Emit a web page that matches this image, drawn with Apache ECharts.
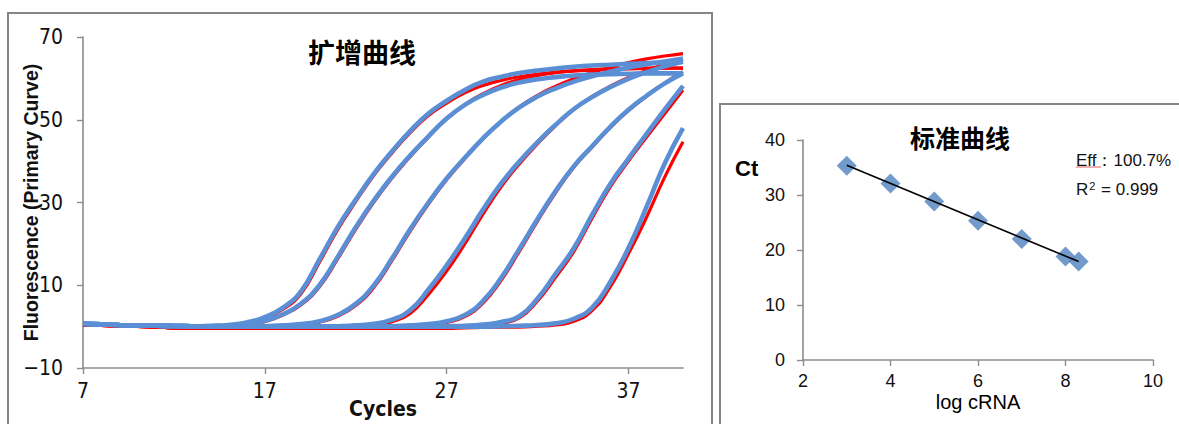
<!DOCTYPE html>
<html>
<head>
<meta charset="utf-8">
<script src="https://cdn.jsdelivr.net/npm/echarts@6/dist/echarts.min.js"></script>
<style>
html,body{margin:0;padding:0;background:#fff;}
#c{width:1179px;height:424px;}
</style>
</head>
<body>
<div id="c"></div>
<script>
// ---- Amplification curves (扩增曲线) ----
const cycles = [7,8,9,10,11,12,13,14,15,16,17,18,19,20,21,22,23,24,25,26,27,28,29,30,31,32,33,34,35,36,37,38,39,40];
const amplifTicks = [7,17,27,37];
const fluorTicks = [-10,10,30,50,70];

const blue1 = [0.7,0.55,0.4,0.3,0.2,0.15,0.1,0.2,0.4,1.0,2.3,4.6,8.6,16.2,24,30.7,37,42.4,47.3,51.5,54.6,57.2,59.2,60.4,61.3,61.9,62.4,62.8,63.1,63.3,63.5,63.7,63.8,64.0];
const red1  = [0.4,0.3,0.2,0.05,-0.1,-0.3,-0.4,-0.3,0.1,0.8,2.0,4.2,8.0,15.5,23.4,30.2,36.6,42.0,46.9,51.0,54.0,56.5,58.3,59.5,60.4,61.0,61.5,61.8,62.0,62.2,62.3,62.4,62.5,62.5];
const blue2 = [0.7,0.55,0.4,0.3,0.2,0.15,0.1,0.1,0.2,0.5,1.4,3.0,5.6,10,16.8,24,30.5,36.3,41.4,46,50.3,53.6,56.0,57.8,59.0,59.8,60.3,60.7,60.9,61.0,61.1,61.2,61.2,61.2];
const red2  = [0.4,0.3,0.2,0.05,-0.1,-0.3,-0.4,-0.3,0,0.4,1.2,2.8,5.3,9.6,16.3,23.5,30.1,35.9,41.1,45.8,50.2,53.7,56.3,58.3,59.7,60.7,61.4,61.8,62.1,62.3,62.4,62.5,62.5,62.5];
const blue3 = [0.7,0.55,0.4,0.3,0.2,0.15,0.1,0.05,0,0,0.1,0.3,0.6,1.3,2.8,5.5,10,16.5,23.6,30,35.8,40.8,45.5,49.6,53.0,55.6,57.6,59.2,60.5,61.6,62.6,63.4,64.1,64.8];
const red3  = [0.4,0.3,0.2,0.05,-0.1,-0.3,-0.4,-0.4,-0.4,-0.3,-0.2,0.1,0.4,1.1,2.5,5.1,9.5,16.0,23.1,29.6,35.5,40.6,45.4,49.6,53.1,55.9,58.1,59.9,61.4,62.7,63.8,64.7,65.4,66.0];
const blue4 = [0.7,0.55,0.4,0.3,0.2,0.15,0.1,0.05,0,0,0,0,0,0,0.1,0.3,0.7,1.7,4.0,9.0,14.8,21.3,28.3,34.6,39.9,44.6,48.8,52.6,55.5,57.9,59.9,61.5,62.9,64.0];
const red4  = [0.4,0.3,0.2,0.05,-0.1,-0.3,-0.4,-0.4,-0.4,-0.4,-0.4,-0.4,-0.4,-0.3,-0.2,0.0,0.4,1.2,3.2,7.8,13.4,20.0,27.2,33.8,39.3,44.2,48.6,52.5,55.6,58.1,60.2,61.9,63.4,64.6];
const blue5 = [0.7,0.55,0.4,0.3,0.2,0.15,0.1,0.05,0,0,0,0,0,0,0,0,0,0.1,0.3,0.6,1.3,2.8,6.2,11.8,18.8,26,32.8,38.8,43.6,48.3,52.4,55.8,58.8,61.2];
const red5  = [0.4,0.3,0.2,0.05,-0.1,-0.3,-0.4,-0.4,-0.4,-0.4,-0.4,-0.4,-0.4,-0.4,-0.4,-0.4,-0.3,-0.2,0.0,0.3,1.0,2.4,5.7,11.2,18.2,25.5,32.4,38.5,43.4,48.1,52.2,55.7,58.9,61.6];
const blue6 = [0.7,0.55,0.4,0.3,0.2,0.15,0.1,0.05,0,0,0,0,0,0,0,0,0,0,0,0,0.1,0.2,0.5,1.1,2.5,6.8,12.8,19,27,34.5,40.6,46.6,52.5,58.2];
const red6  = [0.4,0.3,0.2,0.05,-0.1,-0.3,-0.4,-0.4,-0.4,-0.4,-0.4,-0.4,-0.4,-0.4,-0.4,-0.4,-0.4,-0.4,-0.4,-0.3,-0.2,0.0,0.2,0.8,2.1,6.2,12.0,18.2,26.2,33.8,40.0,45.8,51.5,57.2];
const blue7 = [0.7,0.55,0.4,0.3,0.2,0.15,0.1,0.05,0,0,0,0,0,0,0,0,0,0,0,0,0,0,0,0.1,0.2,0.4,0.8,1.9,4.6,10.8,19,29,39.5,48];
const red7  = [0.4,0.3,0.2,0.05,-0.1,-0.3,-0.4,-0.4,-0.4,-0.4,-0.4,-0.4,-0.4,-0.4,-0.4,-0.4,-0.4,-0.4,-0.4,-0.4,-0.4,-0.3,-0.2,-0.1,-0.1,0.1,0.4,1.3,3.9,9.6,17.6,26.5,36.2,44.7];

// ---- Standard curve (标准曲线) ----
const logCRNA = [3,4,5,6,7,8,8.3];
const ctValues = [35.3,32.1,28.8,25.3,22.0,18.8,17.9];
const fitX = [3, 8.3];
const fitY = [35.4, 17.9];
const stdXTicks = [2,4,6,8,10];
const stdYTicks = [0,10,20,30,40];

const redCurves = [red1, red2, red3, red4, red5, red6, red7];
const blueCurves = [blue1, blue2, blue3, blue4, blue5, blue6, blue7];

const zip = (xs, ys) => xs.map((x, i) => [x, ys[i]]);

const narrow = "'Liberation Sans Narrow', 'DejaVu Sans Condensed', 'Arial Narrow', 'Liberation Sans', Arial, sans-serif";
const sans = "'Liberation Sans', Arial, sans-serif";
const cjk = "'Noto Sans CJK SC', sans-serif";
const axisGrey = '#8c8c8c';

const series = [];
redCurves.forEach((d, i) => series.push({
  name: 'red' + (i + 1), type: 'line', xAxisIndex: 0, yAxisIndex: 0,
  data: zip(cycles, d), showSymbol: false, smooth: 0.5,
  lineStyle: { color: '#ff0000', width: 3.2 }, z: 2
}));
blueCurves.forEach((d, i) => series.push({
  name: 'blue' + (i + 1), type: 'line', xAxisIndex: 0, yAxisIndex: 0,
  data: zip(cycles, d), showSymbol: false, smooth: 0.5,
  lineStyle: { color: '#5a8fd6', width: 4.6 }, z: 3
}));
series.push({
  name: 'fit', type: 'line', xAxisIndex: 1, yAxisIndex: 1,
  data: zip(fitX, fitY), showSymbol: false,
  lineStyle: { color: '#000', width: 1.6 }, z: 4
});
series.push({
  name: 'Ct', type: 'scatter', xAxisIndex: 1, yAxisIndex: 1,
  data: zip(logCRNA, ctValues), symbol: 'diamond', symbolSize: [20, 20],
  itemStyle: { color: '#4f81bd' }, z: 3
});

const chart = echarts.init(document.getElementById('c'), null, { renderer: 'svg' });
chart.setOption({
  animation: false,
  backgroundColor: '#fff',
  grid: [
    { left: 83, top: 37, width: 600, height: 331, containLabel: false, outerBoundsMode: 'none' },
    { left: 803, top: 140, width: 350, height: 220, containLabel: false, outerBoundsMode: 'none' }
  ],
  xAxis: [
    {
      gridIndex: 0, type: 'value', min: 7, max: 40, interval: 10,
      name: 'Cycles', nameLocation: 'middle', nameGap: 30, nameMoveOverlap: false,
      nameTextStyle: { fontFamily: narrow, fontWeight: 'bold', fontSize: 21, color: '#111' },
      axisLine: { onZero: false, lineStyle: { color: axisGrey, width: 1.6 } },
      axisTick: { length: 6, lineStyle: { color: axisGrey, width: 1.4 }, customValues: amplifTicks },
      axisLabel: { customValues: amplifTicks, fontFamily: narrow, fontSize: 21, color: '#111', margin: 12 },
      splitLine: { show: false }
    },
    {
      gridIndex: 1, type: 'value', min: 2, max: 10, interval: 2,
      name: 'log cRNA', nameLocation: 'middle', nameGap: 32, nameMoveOverlap: false,
      nameTextStyle: { fontFamily: sans, fontSize: 20, color: '#000' },
      axisLine: { onZero: false, lineStyle: { color: axisGrey, width: 1.6 } },
      axisTick: { length: 6, lineStyle: { color: axisGrey, width: 1.4 }, customValues: stdXTicks },
      axisLabel: { customValues: stdXTicks, fontFamily: sans, fontSize: 18, color: '#111', margin: 12 },
      splitLine: { show: false }
    }
  ],
  yAxis: [
    {
      gridIndex: 0, type: 'value', min: -10, max: 70, interval: 20,
      name: 'Fluorescence (Primary Curve)', nameLocation: 'middle', nameGap: 42, nameRotate: 90, nameMoveOverlap: false,
      nameTextStyle: { fontFamily: sans, fontWeight: 'bold', fontSize: 19.5, color: '#111' },
      axisLine: { show: true, onZero: false, lineStyle: { color: axisGrey, width: 1.6 } },
      axisTick: { show: true, length: 6, lineStyle: { color: axisGrey, width: 1.4 }, customValues: fluorTicks },
      axisLabel: { customValues: fluorTicks, fontFamily: narrow, fontSize: 21, color: '#111', margin: 20,
        formatter: v => String(v).replace('-', '\u2212') },
      splitLine: { show: false }
    },
    {
      gridIndex: 1, type: 'value', min: 0, max: 40, interval: 10,
      axisLine: { show: true, onZero: false, lineStyle: { color: axisGrey, width: 1.6 } },
      axisTick: { show: true, length: 6, lineStyle: { color: axisGrey, width: 1.4 }, customValues: stdYTicks },
      axisLabel: { customValues: stdYTicks, fontFamily: sans, fontSize: 18, color: '#111', margin: 18 },
      splitLine: { show: false }
    }
  ],
  title: [
    { text: '扩增曲线', left: 357, top: 33, textAlign: 'center',
      textStyle: { fontFamily: cjk, fontWeight: 'bold', fontSize: 27, color: '#000' } },
    { text: '标准曲线', left: 955, top: 119, textAlign: 'center',
      textStyle: { fontFamily: cjk, fontWeight: 'bold', fontSize: 25, color: '#000' } },
    { text: 'Ct', left: 730, top: 152,
      textStyle: { fontFamily: sans, fontWeight: 'bold', fontSize: 22, color: '#000' } },
    { text: 'Eff：100.7%', left: 1071, top: 147,
      textStyle: { fontFamily: sans, fontWeight: 'normal', fontSize: 17, color: '#111' } },
    { text: 'R{sup|2} = 0.999', left: 1071, top: 175,
      textStyle: { fontFamily: sans, fontWeight: 'normal', fontSize: 17, color: '#111',
        rich: { sup: { fontSize: 11, verticalAlign: 'top', padding: [0, 1, 8, 1], fontFamily: sans, color: '#111' } } } }
  ],
  graphic: [
    { type: 'rect', shape: { x: 8, y: 13, width: 704, height: 440 },
      style: { fill: 'none', stroke: '#858585', lineWidth: 2 }, z: -1 },
    { type: 'rect', shape: { x: 720, y: 104, width: 480, height: 340 },
      style: { fill: 'none', stroke: '#858585', lineWidth: 2 }, z: -1 },
    { type: 'line', shape: { x1: 1076, y1: 167, x2: 1101, y2: 167 },
      style: { stroke: '#e06060', lineWidth: 1 } }
  ],
  series: series
});
</script>
</body>
</html>
